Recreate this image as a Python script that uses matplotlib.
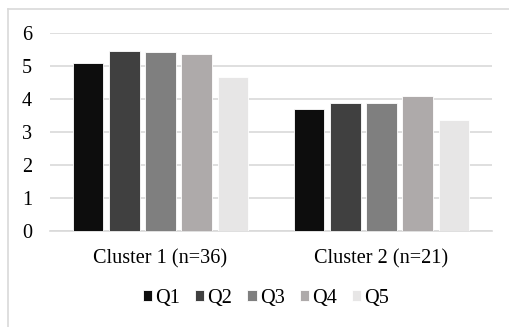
import numpy as np
import matplotlib.pyplot as plt
from matplotlib.lines import Line2D

clusters = ["Cluster 1 (n=36)", "Cluster 2 (n=21)"]
questions = ["Q1", "Q2", "Q3", "Q4", "Q5"]
q1 = [5.09, 3.69]
q2 = [5.44, 3.87]
q3 = [5.42, 3.87]
q4 = [5.36, 4.08]
q5 = [4.67, 3.35]
colors = ["#0d0d0d", "#404040", "#7f7f7f", "#aeaaaa", "#e7e6e6"]

plt.rcParams['font.family'] = ['Liberation Serif', 'DejaVu Serif']

W, H = 510, 327
fig = plt.figure(figsize=(W / 100, H / 100), dpi=100)
ax = fig.add_axes([50 / W, 1 - 231 / H, 442 / W, 198 / H])

x = np.arange(len(clusters))
step = 0.164
width = 0.14
for i, (vals, c) in enumerate(zip([q1, q2, q3, q4, q5], colors)):
    ax.bar(x + (i - 2) * step, vals, width, color=c, label=questions[i],
           edgecolor="white", linewidth=0.6, zorder=3)

ax.set_xlim(-0.5, 1.5)
ax.set_ylim(0, 6)
ax.set_yticks(range(0, 7))
ax.set_xticks(x)
ax.set_xticklabels(clusters)
ax.tick_params(axis='both', length=0, labelsize=14.6, colors="#000000")
ax.tick_params(axis='y', pad=13)
ax.tick_params(axis='x', pad=13)
ax.yaxis.grid(True, color="#d9d9d9", linewidth=1.2, zorder=0)
for s in ["top", "right", "left"]:
    ax.spines[s].set_visible(False)
ax.spines["bottom"].set_color("#d9d9d9")
ax.spines["bottom"].set_linewidth(1.2)

ax.legend(loc="center", bbox_to_anchor=(266 / W, 1 - 298 / H),
          bbox_transform=fig.transFigure, ncol=5, frameon=False,
          fontsize=14.6, handlelength=0.45, handleheight=0.45,
          handletextpad=0.15, columnspacing=0.75)

# chart border (left and top edges visible)
fig.add_artist(Line2D([8 / W, 8 / W], [1 - 9 / H, 0], color="#d9d9d9",
                      linewidth=1.2, transform=fig.transFigure))
fig.add_artist(Line2D([8 / W, 1], [1 - 9 / H, 1 - 9 / H], color="#d9d9d9",
                      linewidth=1.2, transform=fig.transFigure))

fig.savefig("out.png", dpi=100)
